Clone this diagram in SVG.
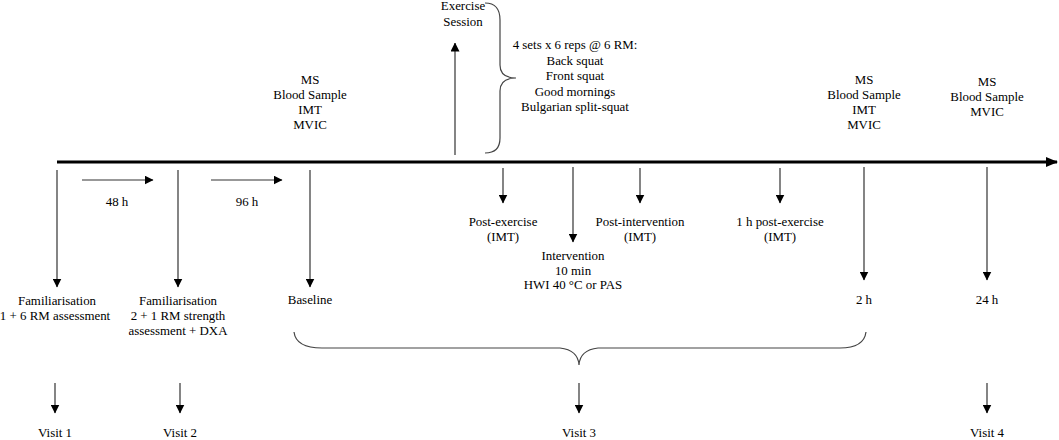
<svg xmlns="http://www.w3.org/2000/svg" width="1059" height="440" viewBox="0 0 1059 440">
<defs>
<marker id="ah" markerWidth="9" markerHeight="9" refX="8.5" refY="4.5" orient="auto" markerUnits="userSpaceOnUse">
<path d="M0,0 L9,4.5 L0,9 Z" fill="#000"/>
</marker>
<marker id="ahBig" markerWidth="12" markerHeight="10" refX="11" refY="5" orient="auto" markerUnits="userSpaceOnUse">
<path d="M0,0 L12,5 L0,10 Z" fill="#000"/>
</marker>
</defs>
<style>
text{font-family:"Liberation Serif","Times New Roman",serif;font-size:12.9px;fill:#000;text-anchor:middle}
.a{stroke:#333;stroke-width:1.2;fill:none;marker-end:url(#ah)}
.br{stroke:#444;stroke-width:1.2;fill:none}
</style>
<rect width="1059" height="440" fill="#fff"/>
<g id="connectors">
<line x1="57" y1="162" x2="1057" y2="162" stroke="#000" stroke-width="2.8" marker-end="url(#ahBig)"/>
<line class="a" x1="57" y1="170" x2="57" y2="287"/>
<line class="a" x1="178" y1="170" x2="178" y2="287"/>
<line class="a" x1="310" y1="170" x2="310" y2="287"/>
<line class="a" x1="82" y1="180" x2="153" y2="180"/>
<line class="a" x1="211" y1="180" x2="282" y2="180"/>
<line class="a" x1="455" y1="155" x2="455" y2="43"/>
<line class="a" x1="503" y1="168" x2="503" y2="203"/>
<line class="a" x1="573" y1="167" x2="573" y2="242"/>
<line class="a" x1="640" y1="168" x2="640" y2="203"/>
<line class="a" x1="780" y1="168" x2="780" y2="203"/>
<line class="a" x1="864" y1="167" x2="864" y2="280"/>
<line class="a" x1="987" y1="167" x2="987" y2="280"/>
<line class="a" x1="55" y1="383" x2="55" y2="413"/>
<line class="a" x1="180" y1="383" x2="180" y2="413"/>
<line class="a" x1="579" y1="383" x2="579" y2="413"/>
<line class="a" x1="987" y1="383" x2="987" y2="413"/>
<path class="br" d="M485,3 Q500,3 500,20 L500,65 Q500,78 516,78 Q500,78 500,91 L500,138 Q500,153 485,153"/>
<path class="br" d="M294,332 Q296,348 322,348 L560,348 Q578,350 579,365 Q580,350 598,348 L840,348 Q864,348 866,332"/>
</g>
<g id="exercise"><text x="463" y="10">Exercise</text><text x="463" y="26">Session</text></g>
<g id="sets">
<text x="575" y="49">4 sets x 6 reps @ 6 RM:</text>
<text x="575" y="64.5">Back squat</text>
<text x="575" y="80">Front squat</text>
<text x="575" y="95.5">Good mornings</text>
<text x="575" y="111">Bulgarian split-squat</text>
</g>
<g id="measures-baseline"><text x="310" y="84">MS</text><text x="310" y="99">Blood Sample</text><text x="310" y="114">IMT</text><text x="310" y="129">MVIC</text></g>
<g id="measures-2h"><text x="864" y="84">MS</text><text x="864" y="99">Blood Sample</text><text x="864" y="114">IMT</text><text x="864" y="129">MVIC</text></g>
<g id="measures-24h"><text x="987" y="86">MS</text><text x="987" y="101">Blood Sample</text><text x="987" y="116">MVIC</text></g>
<g id="t48"><text x="117" y="206">48 h</text></g>
<g id="t96"><text x="247" y="206">96 h</text></g>
<g id="fam1"><text x="57" y="305">Familiarisation</text><text x="55" y="320">1 + 6 RM assessment</text></g>
<g id="fam2"><text x="178" y="305">Familiarisation</text><text x="178" y="320">2 + 1 RM strength</text><text x="178" y="335">assessment + DXA</text></g>
<g id="baseline"><text x="310" y="304">Baseline</text></g>
<g id="postex"><text x="503" y="226">Post-exercise</text><text x="503" y="241">(IMT)</text></g>
<g id="intervention"><text x="573" y="260">Intervention</text><text x="573" y="274.5">10 min</text><text x="573" y="289">HWI 40 °C or PAS</text></g>
<g id="postint"><text x="640" y="226">Post-intervention</text><text x="640" y="241">(IMT)</text></g>
<g id="post1h"><text x="780" y="226">1 h post-exercise</text><text x="780" y="241">(IMT)</text></g>
<g id="t2h"><text x="864" y="304">2 h</text></g>
<g id="t24h"><text x="987" y="304">24 h</text></g>
<g id="visit1"><text x="55" y="437">Visit 1</text></g>
<g id="visit2"><text x="180" y="437">Visit 2</text></g>
<g id="visit3"><text x="579" y="437">Visit 3</text></g>
<g id="visit4"><text x="987" y="437">Visit 4</text></g>
</svg>
